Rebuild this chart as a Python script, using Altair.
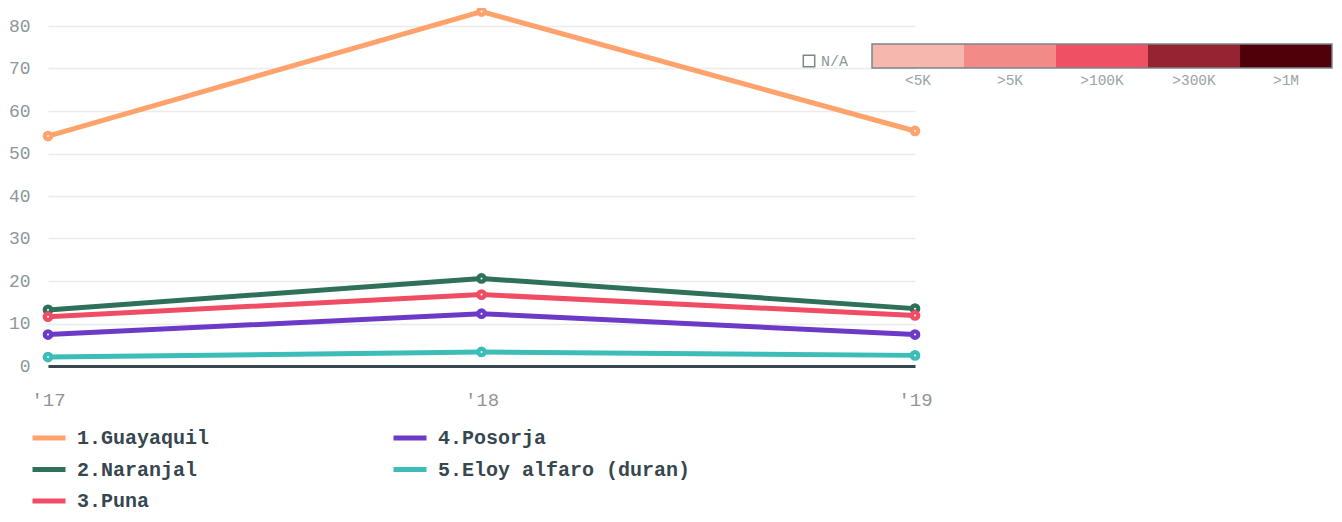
import altair as alt
import pandas as pd

years = ["'17", "'18", "'19"]
series = ["1.Guayaquil", "2.Naranjal", "3.Puna", "4.Posorja", "5.Eloy alfaro (duran)"]
guayaquil = [54.1, 83.4, 55.3]
naranjal = [13.2, 20.6, 13.5]
puna = [11.6, 16.8, 11.9]
posorja = [7.4, 12.3, 7.4]
eloy = [2.1, 3.3, 2.5]
series_colors = ["#ffa26b", "#2e7158", "#f04c63", "#6c3ac6", "#3dbdb8"]

bin_labels = ["<5K", ">5K", ">100K", ">300K", ">1M"]
bin_colors = ["#f5b7ae", "#f28a88", "#f05063", "#962331", "#4f0009"]
na_label = ["N/A"]

values = [guayaquil, naranjal, puna, posorja, eloy]
rows = []
for s, vals in zip(series, values):
    for y, v in zip(years, vals):
        rows.append({"series": s, "year": y, "value": v})
df = pd.DataFrame(rows)

MONO = "Liberation Mono"

x_enc = alt.X("year:O", sort=years, title=None,
              scale=alt.Scale(padding=0),
              axis=alt.Axis(labelAngle=0, ticks=False, domain=True,
                            domainColor="#37474f", domainWidth=3,
                            labelFont=MONO, labelFontSize=19,
                            labelColor="#8d979b", labelPadding=24, grid=False))
y_enc = alt.Y("value:Q", title=None,
              scale=alt.Scale(domain=[0, 84], nice=False, zero=True),
              axis=alt.Axis(values=[0, 10, 20, 30, 40, 50, 60, 70, 80],
                            ticks=False, domain=False, labelFont=MONO,
                            labelFontSize=18, labelColor="#8d979b",
                            labelPadding=18, grid=True, gridColor="#ebebeb",
                            gridWidth=1.5))

color_scale = alt.Scale(domain=series, range=series_colors)
color_enc = alt.Color("series:N", scale=color_scale,
                      legend=alt.Legend(orient="none", legendX=-18, legendY=410,
                                        columns=2, title=None, symbolType="stroke",
                                        symbolSize=1089, symbolStrokeWidth=5,
                                        labelFont=MONO, labelFontSize=20,
                                        labelFontWeight="bold", labelColor="#37474f",
                                        labelOffset=9, rowPadding=2.5,
                                        columnPadding=173, padding=0,
                                        labelLimit=400))

base = alt.Chart(df)
lines = base.mark_line(strokeWidth=5).encode(x=x_enc, y=y_enc, color=color_enc)
pts = base.mark_point(filled=True, size=115, opacity=1).encode(
    x=x_enc, y=y_enc, color=alt.Color("series:N", scale=color_scale, legend=None))
dots = base.mark_point(filled=True, size=4, color="white", opacity=1).encode(x=x_enc, y=y_enc)
main = alt.layer(lines, pts, dots)

# threshold colour legend (top right)
bdf = pd.DataFrame({"label": bin_labels, "color": bin_colors})
bdf["start"] = range(len(bin_labels))
bdf["end"] = bdf["start"] + 1
bdf["mid"] = bdf["start"] + 0.5
bscale = alt.Scale(domain=[0, len(bin_labels)], range=[824, 1284])
bbase = alt.Chart(bdf)
blocks = bbase.mark_rect().encode(
    x=alt.X("start:Q", scale=bscale, axis=None),
    x2="end:Q",
    y=alt.value(35), y2=alt.value(59),
    fill=alt.Fill("color:N", scale=None))
border = bbase.mark_rect(fill=None, filled=False, stroke="#7c8689", strokeWidth=1.5).encode(
    x=alt.X("min(start):Q", scale=bscale, axis=None),
    x2="max(end):Q",
    y=alt.value(35), y2=alt.value(59))
blabels = bbase.mark_text(font=MONO, fontSize=14.5, color="#9aa3a6", baseline="middle").encode(
    x=alt.X("mid:Q", scale=bscale, axis=None),
    y=alt.value(72),
    text="label:N")
ndf = pd.DataFrame({"label": na_label})
na_sq = alt.Chart(ndf).mark_point(shape="square", filled=False, size=130,
                                  stroke="#7c8689", strokeWidth=1.5, opacity=1).encode(
    x=alt.value(761), y=alt.value(52))
na_txt = alt.Chart(ndf).mark_text(font=MONO, fontSize=15, color="#8d979b",
                                  align="left", baseline="middle").encode(
    x=alt.value(773), y=alt.value(52), text="label:N")
binleg = alt.layer(blocks, border, blabels, na_sq, na_txt)

chart = alt.layer(main, binleg).resolve_scale(
    x="independent", y="independent", color="independent", fill="independent"
).properties(
    width=867, height=357,
    autosize=alt.AutoSizeParams(type="none"),
    padding={"left": 40, "top": 1, "right": 419, "bottom": 148},
).configure_view(stroke=None)

chart.save("out.html", embed_options={"renderer": "svg", "actions": False})
